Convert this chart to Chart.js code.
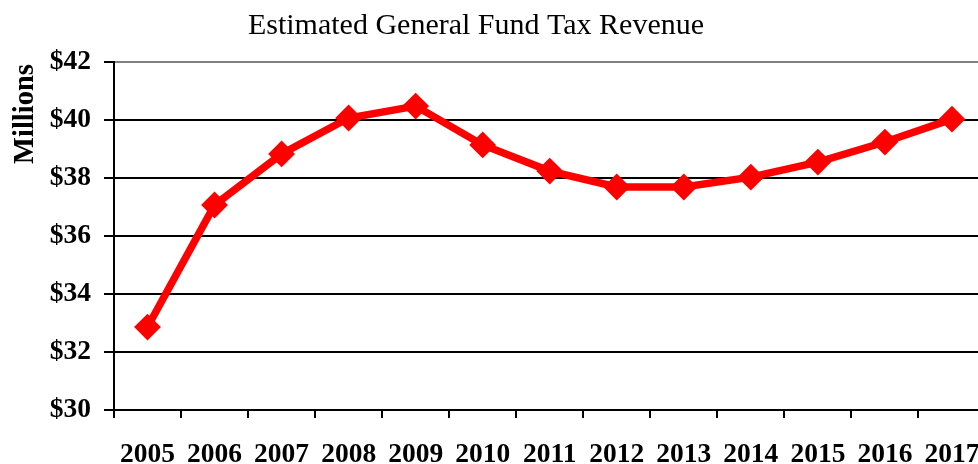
<!DOCTYPE html>
<html lang="en">
<head>
    <meta charset="UTF-8">
    <title>Estimated General Fund Tax Revenue</title>
    <style>
        html, body {
            margin: 0;
            padding: 0;
            background-color: #fff;
            overflow: hidden;
        }
        .chart-box {
            width: 1000px;
            height: 464px;
        }
    </style>
</head>
<body>
    <div class="chart-box">
        <canvas id="revenueChart" width="1000" height="464"></canvas>
    </div>

<script src="https://cdn.jsdelivr.net/npm/chart.js"></script>
<script>
    const chartTitle = 'Estimated General Fund Tax Revenue';
    const yAxisTitle = 'Millions';
    const years = ['2005', '2006', '2007', '2008', '2009', '2010', '2011',
                   '2012', '2013', '2014', '2015', '2016', '2017'];
    const revenue = [32.86, 37.07, 38.83, 40.07, 40.48, 39.14, 38.24,
                     37.69, 37.69, 38.03, 38.55, 39.24, 40.03];
    const yMin = 30;
    const yMax = 42;
    const yStep = 2;

    const serif = "'Liberation Serif', 'Times New Roman', serif";

    // title and rotated axis caption, placed like the original
    const textPlugin = {
        id: 'outerText',
        afterDraw(chart) {
            const ctx = chart.ctx;
            ctx.save();
            ctx.fillStyle = '#000';
            ctx.font = '30px ' + serif;
            ctx.textAlign = 'center';
            ctx.textBaseline = 'alphabetic';
            ctx.fillText(chartTitle, 476, 34);

            ctx.translate(33, 114);
            ctx.rotate(-Math.PI / 2);
            ctx.font = 'bold 28.5px ' + serif;
            ctx.fillText(yAxisTitle, 0, 0);
            ctx.restore();
        }
    };

    const ctx = document.getElementById('revenueChart').getContext('2d');
    new Chart(ctx, {
        type: 'line',
        data: {
            labels: years,
            datasets: [{
                data: revenue,
                borderColor: '#ff0000',
                backgroundColor: '#ff0000',
                borderWidth: 7.5,
                tension: 0,
                fill: false,
                clip: false,
                pointStyle: 'rectRot',
                pointRadius: 12,
                pointBorderWidth: 2,
                pointBackgroundColor: '#ff0000',
                pointBorderColor: '#ff0000',
            }]
        },
        options: {
            responsive: false,
            animation: false,
            layout: {
                padding: { top: 62, right: 14, left: 0, bottom: 0 }
            },
            plugins: {
                legend: { display: false },
                tooltip: { enabled: false },
            },
            scales: {
                x: {
                    offset: true,
                    afterFit(scale) { scale.height = 54; },
                    grid: {
                        offset: true,
                        drawOnChartArea: false,
                        drawTicks: true,
                        tickLength: 8,
                        color: '#000',
                        lineWidth: 2,
                    },
                    border: { display: true, color: '#000', width: 2 },
                    ticks: {
                        color: '#000',
                        padding: 20,
                        maxRotation: 0,
                        autoSkip: false,
                        font: { family: serif, size: 27.5, weight: 'bold' },
                    },
                },
                y: {
                    min: yMin,
                    max: yMax,
                    afterFit(scale) { scale.width = 114; },
                    grid: {
                        color: c => (c.tick && c.tick.value === yMax ? '#808080' : '#000'),
                        tickColor: '#000',
                        lineWidth: 2,
                        tickLength: 10,
                    },
                    border: { display: true, color: '#000', width: 2 },
                    ticks: {
                        stepSize: yStep,
                        color: '#000',
                        padding: 13,
                        callback: v => '$' + v,
                        font: { family: serif, size: 27.5, weight: 'bold' },
                    },
                },
            },
        },
        plugins: [textPlugin],
    });
</script>
</body>
</html>
